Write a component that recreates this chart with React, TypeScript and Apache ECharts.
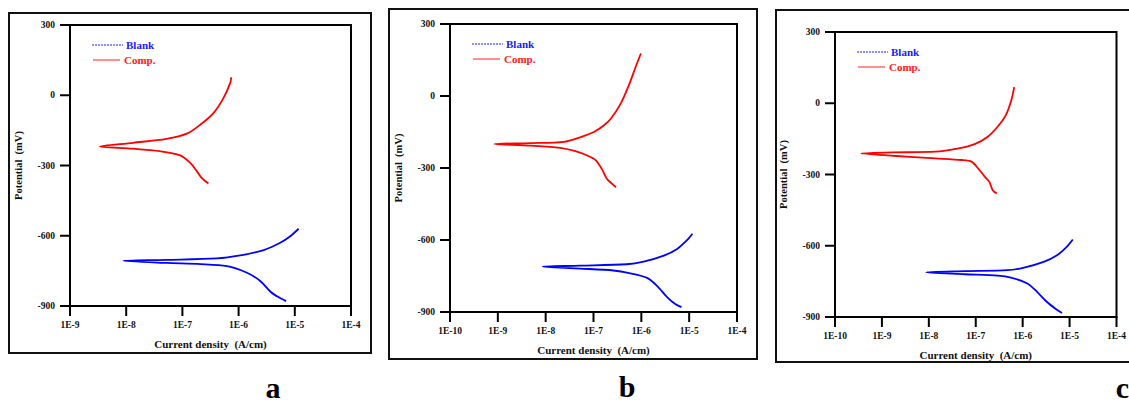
import React, { useEffect, useRef } from "react";
import * as echarts from "echarts";

// [current density (A/cm), potential (mV)]
const blankA: number[][] = [
  [7.0e-6, -879], [5.1e-6, -862], [3.7e-6, -839], [2.45e-6, -794], [1.41e-6, -758], [6.2e-7, -730], [2.1e-7, -721], [5.2e-8, -716],
  [8.9e-9, -707],
  [5.2e-8, -703], [4.1e-7, -697], [1.07e-6, -684], [2.8e-6, -661], [5.5e-6, -630], [8.3e-6, -602], [1.17e-5, -570],
];
const compA: number[][] = [
  [2.9e-7, -377], [2.2e-7, -353], [1.8e-7, -324], [1.38e-7, -289], [9.1e-8, -257], [4.0e-8, -239], [1.33e-8, -228],
  [3.4e-9, -219],
  [1.33e-8, -203], [5.2e-8, -186], [1.2e-7, -164], [2.1e-7, -125], [3.6e-7, -75], [5.4e-7, -11], [7.1e-7, 53], [7.4e-7, 77],
];
const blankB: number[][] = [
  [6.9e-6, -880], [5.1e-6, -867], [3.5e-6, -839], [2.1e-6, -790], [1.32e-6, -758], [5.9e-7, -739], [2.6e-7, -727], [5.2e-8, -719],
  [8.7e-9, -711],
  [5.2e-8, -707], [5.0e-7, -701], [1.12e-6, -690], [2.95e-6, -665], [5.6e-6, -637], [8.9e-6, -602], [1.17e-5, -574],
];
const compB: number[][] = [
  [2.95e-7, -380], [2.45e-7, -366], [1.9e-7, -345], [1.55e-7, -310], [1.12e-7, -268], [7.4e-8, -248], [4.0e-8, -229], [2.0e-8, -216], [4.8e-9, -207],
  [8.5e-10, -200],
  [4.8e-9, -196], [2.4e-8, -191], [5.4e-8, -171], [1.02e-7, -150], [1.66e-7, -122], [2.3e-7, -95], [3.7e-7, -32], [5.5e-7, 45], [7.6e-7, 121], [9.8e-7, 177],
];
const blankC: number[][] = [
  [6.9e-6, -883], [5.0e-6, -865], [3.3e-6, -837], [2.05e-6, -795], [1.26e-6, -759], [5.6e-7, -734], [2.95e-7, -726], [5.9e-8, -720],
  [8.7e-9, -712],
  [5.9e-8, -707], [4.8e-7, -703], [1.07e-6, -692], [2.8e-6, -668], [5.4e-6, -640], [8.7e-6, -605], [1.17e-5, -574],
];
const compC: number[][] = [
  [2.8e-7, -380], [2.3e-7, -366], [1.95e-7, -331], [1.55e-7, -309], [1.12e-7, -274], [8.1e-8, -246], [5.0e-8, -239], [1.38e-8, -232], [1.7e-9, -221],
  [3.6e-10, -211],
  [1.7e-9, -207], [1.38e-8, -204], [4.3e-8, -190], [9.5e-8, -172], [1.8e-7, -141], [2.95e-7, -98], [4.4e-7, -49], [5.75e-7, 14], [6.6e-7, 68],
];

const xMins = [1e-9, 1e-10, 1e-10];
const xMax = 1e-4;
const yMin = -900;
const yMax = 300;
const yStep = 300;
const panelLetters = ["a", "b", "c"];
const legendNames = ["Blank", "Comp."];
const xName = "Current density  (A/cm)";
const yName = "Potential  (mV)";

const FONT = "'Liberation Serif', 'Times New Roman', serif";

export default function App() {
  const ref = useRef<HTMLDivElement>(null);
  useEffect(() => {
    if (!ref.current) return;
    const chart = echarts.init(ref.current, undefined, { renderer: "svg" });
    const grids = [
      { left: 70, top: 25, width: 281, height: 281 },
      { left: 450, top: 24, width: 287, height: 288 },
      { left: 835, top: 32, width: 286, height: 285 },
    ];
    const frames = [
      { x: 9, y: 13, w: 362, h: 340 },
      { x: 389, y: 9, w: 368, h: 350 },
      { x: 776, y: 10, w: 360, h: 352 },
    ];
    const legendPos = [
      { x: 92, y: 45 },
      { x: 472, y: 44 },
      { x: 857, y: 52 },
    ];
    const letterPos = [
      { x: 273, y: 387, align: "center" },
      { x: 627, y: 386, align: "center" },
      { x: 1129, y: 387, align: "right" },
    ];
    const data = [
      [blankA, compA],
      [blankB, compB],
      [blankC, compC],
    ];
    const labelStyle = { fontFamily: FONT, fontWeight: "bold" as const, fontSize: 9.5, color: "#111" };

    const graphic: any[] = [];
    frames.forEach((f, i) => {
      graphic.push({
        type: "rect", id: "frame" + i,
        shape: { x: f.x, y: f.y, width: f.w, height: f.h },
        style: { fill: "none", stroke: "#111", lineWidth: 2 },
        silent: true,
      });
    });
    legendPos.forEach((p, i) => {
      graphic.push({
        type: "line", id: "lgB" + i,
        shape: { x1: p.x, y1: p.y, x2: p.x + 31, y2: p.y },
        style: { stroke: "#2020ff", lineWidth: 1, lineDash: [2, 1] },
      });
      graphic.push({
        type: "text", id: "lgBt" + i,
        x: p.x + 34,
        y: p.y,
        style: {
          text: legendNames[0], fill: "#2020ff", font: `bold 11px ${FONT}`,
          textAlign: "left", textVerticalAlign: "middle", align: "left", verticalAlign: "middle",
        },
      });
      graphic.push({
        type: "line", id: "lgC" + i,
        shape: { x1: p.x + 1, y1: p.y + 15, x2: p.x + 28, y2: p.y + 15 },
        style: { stroke: "#ff2020", lineWidth: 1 },
      });
      graphic.push({
        type: "text", id: "lgCt" + i,
        x: p.x + 32,
        y: p.y + 15,
        style: {
          text: legendNames[1], fill: "#ff2020", font: `bold 11px ${FONT}`,
          textAlign: "left", textVerticalAlign: "middle", align: "left", verticalAlign: "middle",
        },
      });
    });
    letterPos.forEach((p, i) => {
      graphic.push({
        type: "text", id: "letter" + i,
        x: p.x,
        y: p.y,
        style: {
          text: panelLetters[i], fill: "#000", font: `bold 30px ${FONT}`,
          textAlign: p.align, textVerticalAlign: "middle", align: p.align, verticalAlign: "middle",
        },
      });
    });

    const mkAxisLine = () => ({ show: true, onZero: false, lineStyle: { color: "#000", width: 2 } });

    const option: any = {
      animation: false,
      backgroundColor: "#fff",
      grid: grids.map((g) => ({ ...g, show: true, borderColor: "#000", borderWidth: 2, backgroundColor: "transparent" })),
      xAxis: grids.map((_, i) => ({
        type: "log",
        logBase: 10,
        gridIndex: i,
        min: xMins[i],
        max: xMax,
        name: xName,
        nameLocation: "middle",
        nameGap: 32,
        nameTextStyle: { fontFamily: FONT, fontWeight: "bold", fontSize: 11, color: "#111" },
        axisLine: mkAxisLine(),
        axisTick: { show: false },
        minorTick: { show: false },
        splitLine: { show: false },
        axisLabel: { ...labelStyle, margin: 14, formatter: (v: number) => "1E" + Math.round(Math.log10(v)) },
      })),
      yAxis: grids.map((_, i) => ({
        type: "value",
        gridIndex: i,
        min: yMin,
        max: yMax,
        interval: yStep,
        name: yName,
        nameLocation: "middle",
        nameGap: 46,
        nameTextStyle: { fontFamily: FONT, fontWeight: "bold", fontSize: 10.5, color: "#111" },
        axisLine: mkAxisLine(),
        axisTick: { show: false },
        splitLine: { show: false },
        axisLabel: { ...labelStyle, margin: 15 },
      })),
      series: data.flatMap((pair, i) => [
        {
          name: legendNames[0], type: "line", xAxisIndex: i, yAxisIndex: i, data: pair[0],
          showSymbol: false, smooth: 0.3, lineStyle: { color: "#0000ff", width: 1.8 }, itemStyle: { color: "#0000ff" },
        },
        {
          name: legendNames[1], type: "line", xAxisIndex: i, yAxisIndex: i, data: pair[1],
          showSymbol: false, smooth: 0.3, lineStyle: { color: "#ff0000", width: 1.8 }, itemStyle: { color: "#ff0000" },
        },
      ]),
      graphic,
    };
    chart.setOption(option);

    // Tick marks as thin filled bars, positioned through the chart's own scales
    const toPx = (i: number, x: number, y: number): number[] | null => {
      try {
        const p = chart.convertToPixel({ xAxisIndex: i, yAxisIndex: i } as any, [x, y]) as any;
        if (p && isFinite(p[0]) && isFinite(p[1])) return p;
      } catch (e) {
        /* ignore */
      }
      return null;
    };
    const tickMarks: any[] = [];
    grids.forEach((_, i) => {
      const e0 = Math.round(Math.log10(xMins[i]));
      const e1 = Math.round(Math.log10(xMax));
      for (let e = e0; e <= e1; e++) {
        const p = toPx(i, Math.pow(10, e), yMin);
        if (!p) continue;
        tickMarks.push({
          type: "rect", id: `xt${i}_${e}`, silent: true, z: 50,
          shape: { x: p[0] - 1, y: p[1], width: 2, height: 10 },
          style: { fill: "#000" },
        });
      }
      for (let v = yMin; v <= yMax; v += yStep) {
        const p = toPx(i, xMins[i], v);
        if (!p) continue;
        tickMarks.push({
          type: "rect", id: `yt${i}_${v}`, silent: true, z: 50,
          shape: { x: p[0] - 10, y: p[1] - 1, width: 10, height: 2 },
          style: { fill: "#000" },
        });
      }
    });
    chart.setOption({ graphic: [...graphic, ...tickMarks] }, { replaceMerge: ["graphic"] } as any);
    return () => chart.dispose();
  }, []);
  return <div ref={ref} style={{ position: "absolute", left: 0, top: 0, width: 1129, height: 403 }} />;
}
